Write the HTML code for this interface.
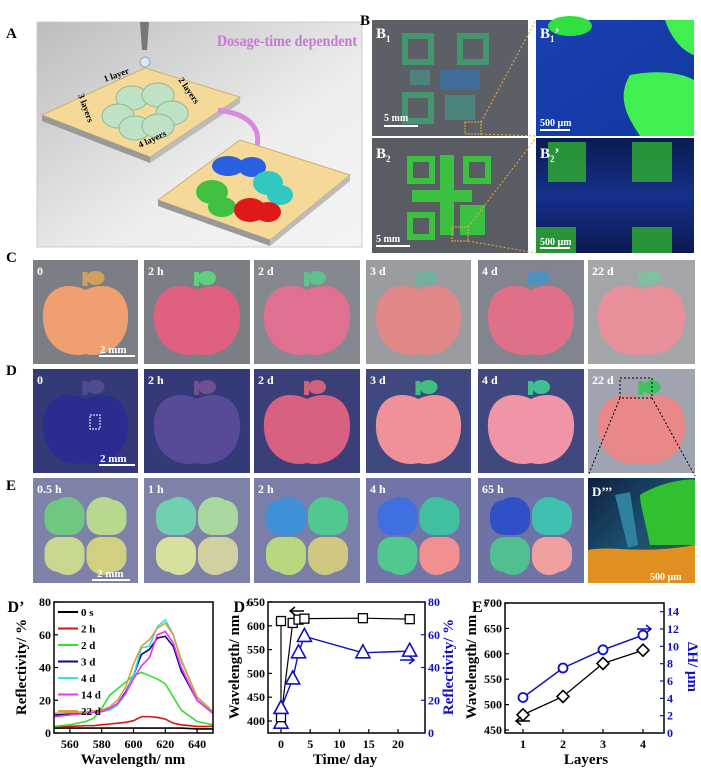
<!DOCTYPE html>
<html><head><meta charset="utf-8">
<style>
html,body{margin:0;padding:0;background:#fff;}
body{width:701px;height:780px;overflow:hidden;font-family:"Liberation Serif",serif;}
svg{display:block}
text{font-family:"Liberation Serif",serif;font-weight:bold;}
</style></head>
<body>
<svg id="fig" width="701" height="780" viewBox="0 0 701 780" xmlns="http://www.w3.org/2000/svg">
<defs>
<linearGradient id="gA" x1="0" y1="0" x2="1" y2="1"><stop offset="0" stop-color="#bdbdbd"/><stop offset="0.6" stop-color="#ededed"/><stop offset="1" stop-color="#f4f4f4"/></linearGradient>
<linearGradient id="gB1p" x1="0" y1="0" x2="1" y2="1"><stop offset="0" stop-color="#1a40b0"/><stop offset="1" stop-color="#1038a0"/></linearGradient>
<linearGradient id="gB2p" x1="0" y1="0" x2="0" y2="1"><stop offset="0" stop-color="#0a1a50"/><stop offset="0.5" stop-color="#15308a"/><stop offset="1" stop-color="#0a1a50"/></linearGradient>
<linearGradient id="gDd" x1="0" y1="0" x2="1" y2="1"><stop offset="0" stop-color="#102040"/><stop offset="0.5" stop-color="#1a5070"/><stop offset="1" stop-color="#306030"/></linearGradient>
</defs>

<!-- Panel A -->
<text x="6" y="38" font-size="15">A</text>
<g>
<rect x="37" y="22" width="325" height="225" fill="url(#gA)" stroke="#ccc"/>
<polygon points="140,22 149,22 147,50 142,50" fill="#777"/>
<circle cx="145" cy="62" r="5" fill="#d8e8f0" stroke="#9ab"/>
<polygon points="42,115 145,68 240,97 150,157" fill="#f4d998" stroke="#cfb070"/>
<polygon points="42,115 150,157 150,163 42,121" fill="#999"/>
<polygon points="150,157 240,97 240,103 150,163" fill="#bbb"/>
<g fill="#bfe2c4" stroke="#8fb89a">
<ellipse cx="132" cy="98" rx="16" ry="12"/><ellipse cx="158" cy="95" rx="16" ry="12"/>
<ellipse cx="118" cy="116" rx="16" ry="12"/><ellipse cx="172" cy="113" rx="16" ry="12"/>
<ellipse cx="135" cy="128" rx="16" ry="12"/><ellipse cx="158" cy="126" rx="16" ry="12"/>
</g>
<text x="217" y="46" font-size="16" textLength="140" lengthAdjust="spacingAndGlyphs" fill="#c67ad4">Dosage-time dependent</text>
<text x="105" y="82" font-size="9" transform="rotate(-20 105 82)">1 layer</text>
<text x="178" y="80" font-size="9" transform="rotate(55 178 80)">2 layers</text>
<text x="78" y="95" font-size="9" transform="rotate(70 78 95)">3 layers</text>
<text x="140" y="148" font-size="9" transform="rotate(-25 140 148)">4 layers</text>
<path d="M218,110 C260,115 265,140 250,160" fill="none" stroke="#d88ae0" stroke-width="5"/>
<polygon points="241,156 258,158 248,170" fill="#c060d0"/>
<polygon points="158,200 240,140 350,175 270,240" fill="#f4d998" stroke="#cfb070"/>
<polygon points="158,200 270,240 270,246 158,206" fill="#999"/>
<polygon points="270,240 350,175 350,181 270,246" fill="#bbb"/>
<g>
<ellipse cx="228" cy="166" rx="16" ry="10" fill="#2a60e0"/><ellipse cx="252" cy="167" rx="14" ry="10" fill="#2a60e0"/>
<ellipse cx="268" cy="183" rx="15" ry="12" fill="#30c8c0"/><ellipse cx="280" cy="195" rx="13" ry="10" fill="#30c8c0"/>
<ellipse cx="212" cy="192" rx="16" ry="12" fill="#40c040"/><ellipse cx="222" cy="207" rx="14" ry="10" fill="#40c040"/>
<ellipse cx="250" cy="210" rx="16" ry="12" fill="#e01818"/><ellipse cx="268" cy="212" rx="13" ry="10" fill="#e01818"/>
</g>
</g>

<!-- Panel B -->
<text x="360" y="25" font-size="15">B</text>
<g>
<rect x="372" y="20" width="156" height="116" fill="#5d5f66"/>
<g fill="#3a9a70" opacity="0.85">
<rect x="405" y="36" width="26" height="26" fill="none" stroke="#40a070" stroke-width="6"/>
<rect x="460" y="36" width="26" height="26" fill="none" stroke="#40a070" stroke-width="6"/>
<rect x="405" y="95" width="26" height="26" fill="none" stroke="#40a070" stroke-width="6"/>
<rect x="440" y="70" width="40" height="20" fill="#3a70a0"/>
<rect x="410" y="70" width="20" height="15" fill="#4a8a80"/>
<rect x="445" y="95" width="30" height="25" fill="#4a8a80"/>
</g>
<line x1="384" y1="126" x2="418" y2="126" stroke="#fff" stroke-width="2"/>
<text x="384" y="121" font-size="10" fill="#fff">5 mm</text>
<text x="376" y="38" font-size="15" fill="#fff">B<tspan font-size="9" dy="4">1</tspan></text>
<rect x="465" y="122" width="16" height="12" fill="none" stroke="#e8b030" stroke-dasharray="2,1"/>
</g>
<g>
<rect x="536" y="20" width="158" height="116" fill="url(#gB1p)"/>
<ellipse cx="570" cy="26" rx="22" ry="10" fill="#30e040"/>
<path d="M630,75 C655,70 680,72 694,80 L694,136 L640,136 C630,120 615,100 630,75 Z" fill="#40f050"/>
<path d="M665,20 L694,20 L694,55 C680,50 670,35 665,20 Z" fill="#40f050"/>
<line x1="540" y1="130" x2="570" y2="130" stroke="#fff" stroke-width="2"/>
<text x="540" y="126" font-size="10" fill="#fff">500 µm</text>
<text x="540" y="38" font-size="15" fill="#fff">B<tspan font-size="9" dy="4">1</tspan><tspan dy="-4">’</tspan></text>
</g>
<g>
<rect x="372" y="138" width="156" height="115" fill="#5a5c63"/>
<g fill="none" stroke="#3cc040" stroke-width="6">
<rect x="410" y="159" width="22" height="22"/><rect x="466" y="159" width="22" height="22"/><rect x="410" y="215" width="22" height="22"/>
</g>
<g fill="#3cc040">
<rect x="440" y="155" width="14" height="80"/><rect x="412" y="190" width="60" height="12"/><rect x="460" y="205" width="25" height="30"/>
</g>
<line x1="376" y1="246" x2="410" y2="246" stroke="#fff" stroke-width="2"/>
<text x="376" y="242" font-size="10" fill="#fff">5 mm</text>
<text x="376" y="158" font-size="15" fill="#fff">B<tspan font-size="9" dy="4">2</tspan></text>
<rect x="452" y="227" width="16" height="14" fill="none" stroke="#e8b030" stroke-dasharray="2,1"/>
</g>
<g>
<rect x="536" y="138" width="158" height="115" fill="url(#gB2p)"/>
<g fill="#30b030" opacity="0.8">
<rect x="548" y="142" width="38" height="40"/><rect x="632" y="142" width="40" height="40"/>
<rect x="536" y="227" width="40" height="26"/><rect x="632" y="227" width="40" height="26"/>
</g>
<line x1="540" y1="248" x2="570" y2="248" stroke="#fff" stroke-width="2"/>
<text x="540" y="245" font-size="10" fill="#fff">500 µm</text>
<text x="540" y="158" font-size="15" fill="#fff">B<tspan font-size="9" dy="4">2</tspan><tspan dy="-4">’</tspan></text>
</g>
<g stroke="#e8b030" stroke-dasharray="2,2" stroke-width="1">
<line x1="481" y1="122" x2="536" y2="20"/><line x1="481" y1="134" x2="536" y2="136"/>
<line x1="468" y1="227" x2="536" y2="138"/><line x1="468" y1="241" x2="536" y2="253"/>
</g>

<!-- Rows C, D, E -->
<text x="6" y="262" font-size="15">C</text>
<text x="6" y="375" font-size="15">D</text>
<text x="6" y="490" font-size="15">E</text>
<g id="photos"></g>

<!-- Charts -->
<g id="chart1"></g><g id="chart2"></g><g id="chart3"></g>
</svg>

<script>
// ---------- Chart D' data ----------
const wl = [550,560,570,575,580,585,590,595,600,605,610,615,620,625,630,640,650];
const seriesNames = ["0 s","2 h","2 d","3 d","4 d","14 d","22 d"];
const r0s  = [3,3,3,3,3,3,3,3,3,3,3,3,3,3,3,2.5,2.5];
const r2h  = [4,4,4.5,4.5,5,5.5,6,6.5,7.5,10,10,9.5,8.5,6,5,4,4];
const r2d  = [4,5,7,9,15,23,27,31,35,37,35,33,30,22,14,7,5];
const r3d  = [11,11.5,12,13,14,15,18,25,35,48,51,58,59,53,38,20,12];
const r4d  = [10,11,12,12.5,13,14,17,24,35,52,53,65,69,60,45,22,13];
const r14d = [10,11,12,12.5,13,15,18,24,33,41,46,60,62,55,40,20,12];
const r22d = [12,12.5,13,13.5,14,16,20,28,42,53,57,64,67,60,44,22,13];
const dTicksX = [560,580,600,620,640];
const dTicksY = [0,20,40,60,80];
// ---------- Chart D'' data ----------
const days = [0,0,2,3,4,14,22];
const wavelengthPeak = [610,408,606,613,615,616,614];
const reflectPeak = [6,15,33,49,59,49,50];
const d2TicksX = [0,5,10,15,20];
const d2TicksYL = [400,450,500,550,600,650];
const d2TicksYR = [0,20,40,60,80];
// ---------- Chart E' data ----------
const layers = [1,2,3,4];
const layerWavelength = [480,516,581,607];
const layerThickness = [4.1,7.5,9.6,11.3];
const eTicksX = [1,2,3,4];
const eTicksYL = [450,500,550,600,650,700];
const eTicksYR = [0,2,4,6,8,10,12,14];

const NS="http://www.w3.org/2000/svg";
function mk(parent,tag,attrs){const e=document.createElementNS(NS,tag);for(const k in attrs)e.setAttribute(k,attrs[k]);parent.appendChild(e);return e;}
function lin(d0,d1,r0,r1){return v=>r0+(v-d0)*(r1-r0)/(d1-d0);}

// ---------- photos ----------
const photos=document.getElementById('photos');
const cols=[[33,138],[144,250],[254,360],[366,471],[478,584],[588,695]];
const rowC={y:260,h:104,bg:["#7c7e86","#7c7e86","#868890","#9a9ca0","#828490","#a4a6aa"],
  fg:["#f0a070","#e06080","#e07090","#e08888","#e07088","#e8909a"],top:["#d0a060","#60d080","#60c090","#70b0a0","#5090c0","#80c0a0"],lab:["0","2 h","2 d","3 d","4 d","22 d"]};
const rowD={y:369,h:104,bg:["#343a78","#343a78","#3a3f78","#404880","#404880","#a0a4b0"],
  fg:["#2c2c90","#584a98","#d86080","#f09098","#f094a8","#e88888"],top:["#504a90","#705090","#d06080","#40c080","#40c090","#40c060"],lab:["0","2 h","2 d","3 d","4 d","22 d"]};
const rowE={y:478,h:105,bg:["#7e82a8","#7e82a8","#7a7ea8","#7074a8","#6e72a4"],
  q:[["#70c880","#b8d890","#c8d890","#d0d080"],["#70d0b0","#a8d8a0","#d8e0a0","#d0d0a0"],["#4090d8","#50c890","#b8d880","#d0c880"],["#4070e0","#40c0a0","#50c890","#f09090"],["#3050c8","#40c0b0","#50c090","#f0a0a0"]],lab:["0.5 h","1 h","2 h","4 h","65 h"]};
function apple(g,x0,w,y,h,fg,top){
  const cx=x0+w/2;
  mk(g,'ellipse',{cx:cx+10,cy:y+18,rx:9,ry:7,fill:top});
  mk(g,'rect',{x:cx-3,y:y+12,width:5,height:14,fill:top});
  mk(g,'path',{d:`M${cx},${y+30} C${cx-20},${y+20} ${x0+8},${y+28} ${x0+10},${y+60} C${x0+12},${y+90} ${cx-15},${y+h-6} ${cx},${y+h-10} C${cx+15},${y+h-6} ${x0+w-12},${y+90} ${x0+w-10},${y+60} C${x0+w-8},${y+28} ${cx+20},${y+20} ${cx},${y+30} Z`,fill:fg});
}
function rowPhotos(row,name){
  for(let i=0;i<6;i++){
    const [x0,x1]=cols[i];const w=x1-x0;
    const g=mk(photos,'g',{});
    
    
    mk(g,'rect',{x:x0,y:row.y,width:w,height:row.h,fill:row.bg[i]});
    apple(g,x0,w,row.y,row.h,row.fg[i],row.top[i]);
    const t=mk(g,'text',{x:x0+4,y:row.y+15,'font-size':12,fill:'#fff'});t.textContent=row.lab[i];
  }
}
rowPhotos(rowC,'row-c');rowPhotos(rowD,'row-d');
for(let i=0;i<5;i++){
  const [x0,x1]=cols[i];const w=x1-x0;const y=rowE.y,h=rowE.h;
  const g=mk(photos,'g',{});
  
  
  mk(g,'rect',{x:x0,y:y,width:w,height:h,fill:rowE.bg[i]});
  const cx=x0+w/2,cy=y+58;const q=rowE.q[i];
  const pos=[[-1,-1],[1,-1],[-1,1],[1,1]];
  pos.forEach((p,k)=>{
    mk(g,'rect',{x:p[0]<0?cx-41:cx+1,y:p[1]<0?cy-36:cy+1,width:40,height:35,rx:14,fill:q[k]});
    mk(g,'circle',{cx:cx+p[0]*18,cy:cy+p[1]*22,r:17,fill:q[k]});
  });
  const t=mk(g,'text',{x:x0+4,y:y+15,'font-size':12,fill:'#fff'});t.textContent=rowE.lab[i];
}
// D''' photo
{const g=mk(photos,'g',{});


mk(g,'rect',{x:588,y:478,width:107,height:105,fill:'url(#gDd)'});
mk(g,'path',{d:'M640,495 C660,482 690,478 695,480 L695,545 L650,545 C645,520 640,505 640,495 Z',fill:'#30c030'});
mk(g,'polygon',{points:'615,495 630,492 638,545 628,548',fill:'#3080a0'});
mk(g,'path',{d:'M588,550 C610,545 640,555 695,545 L695,583 L588,583 Z',fill:'#e09020'});
const t=mk(g,'text',{x:592,y:496,'font-size':13,fill:'#fff'});t.textContent="D’’’";
const t2=mk(g,'text',{x:650,y:580,'font-size':10,fill:'#fff'});t2.textContent="500 µm";}
// scale bars for C and D rows
[[rowC.y+96],[rowD.y+96]].forEach((p,i)=>{
  const g=mk(photos,'g',{});
  
  
  mk(g,'line',{x1:99,y1:p[0],x2:135,y2:p[0],stroke:'#fff','stroke-width':2});
  const t=mk(g,'text',{x:100,y:p[0]-3,'font-size':11,fill:'#fff'});t.textContent='2 mm';
});
{const g=mk(photos,'g',{});


mk(g,'line',{x1:92,y1:580,x2:130,y2:580,stroke:'#fff','stroke-width':2});
const t=mk(g,'text',{x:97,y:577,'font-size':11,fill:'#fff'});t.textContent='2 mm';}
{const g=mk(photos,'g',{fill:'none',stroke:'#000','stroke-dasharray':'2,2'});


mk(g,'rect',{x:620,y:378,width:32,height:20});
mk(g,'line',{x1:620,y1:398,x2:588,y2:476});mk(g,'line',{x1:652,y1:398,x2:695,y2:476});
mk(photos,'rect',{x:90,y:415,width:10,height:14,fill:'none',stroke:'#fff','stroke-dasharray':'2,1'});}

// ---------- common axis ----------
function frame(g,L,T,R,B){
  const f=mk(g,'rect',{x:L,y:T,width:R-L,height:B-T,fill:'none',stroke:'#000','stroke-width':1.5});
  
  
}
function xticks(g,ticks,sx,B,name){
  ticks.forEach(v=>{
    mk(g,'line',{x1:sx(v),y1:B,x2:sx(v),y2:B-4,stroke:'#000','stroke-width':1.2});
    const t=mk(g,'text',{x:sx(v),y:B+15,'font-size':12,'text-anchor':'middle'});
    
    
    t.textContent=v;
  });
}
function yticks(g,ticks,sy,X,side,color,name){
  ticks.forEach(v=>{
    mk(g,'line',{x1:X,y1:sy(v),x2:X+(side<0?4:-4),y2:sy(v),stroke:color,'stroke-width':1.2});
    const t=mk(g,'text',{x:side<0?X-3:X+3,y:sy(v)+4,'font-size':12,'text-anchor':side<0?'end':'start',fill:color});
    
    
    t.textContent=v;
  });
}
function label(g,txt,x,y,rot,color,name,size){
  const t=mk(g,'text',{x:x,y:y,'font-size':size||14,'text-anchor':'middle',fill:color||'#000'});
  if(rot)t.setAttribute('transform',`rotate(${rot} ${x} ${y})`);
  
  
  t.textContent=txt;return t;
}

// ---------- Chart D' ----------
{
const g=document.getElementById('chart1');


const L=54,R=213,T=602,B=733;
const sx=lin(550,650,L,R), sy=lin(0,80,B,T);
const colors=["#000","#e01010","#30e030","#0a0a90","#30e0e0","#f030f0","#d4a040"];
const data=[r0s,r2h,r2d,r3d,r4d,r14d,r22d];
data.forEach((s,i)=>{
  const p=mk(g,'polyline',{points:wl.map((w,k)=>sx(w)+','+sy(s[k])).join(' '),fill:'none',stroke:colors[i],'stroke-width':1.6});
  
  
});
frame(g,L,T,R,B);
xticks(g,dTicksX,sx,B,'x-axis');
yticks(g,dTicksY,sy,L,-1,'#000','y-axis');
label(g,'Wavelength/ nm',133,764,0,'#000','x-axis-title',15);
label(g,'Reflectivity/ %',26,667,-90,'#000','y-axis-title',15);
label(g,'D’',16,612,0,'#000','panel-label-d-prime',16);
seriesNames.forEach((n,i)=>{
  const y=612+i*16.5;
  const le=mk(g,'g',{});
  
  
  mk(le,'line',{x1:58,y1:y,x2:78,y2:y,stroke:colors[i],'stroke-width':2});
  const t=mk(le,'text',{x:81,y:y+4,'font-size':11});t.textContent=n;
});
}
// ---------- Chart D'' ----------
{
const g=document.getElementById('chart2');


const L=268,R=425,T=602,B=733;
const sx=lin(0,20,281,398), syL=lin(400,650,721,T), syR=lin(0,80,B,T);
const pl=mk(g,'polyline',{points:days.map((d,k)=>sx(d)+','+syL(wavelengthPeak[k])).join(' '),fill:'none',stroke:'#000','stroke-width':1.2});


const pr=mk(g,'polyline',{points:days.map((d,k)=>sx(d)+','+syR(reflectPeak[k])).join(' '),fill:'none',stroke:'#1010c0','stroke-width':1.4});


days.forEach((d,k)=>{
  const s=mk(g,'rect',{x:sx(d)-4.5,y:syL(wavelengthPeak[k])-4.5,width:9,height:9,fill:'#fff',stroke:'#000','stroke-width':1.3});
  
  
  const x=sx(d),y=syR(reflectPeak[k]);
  const tr=mk(g,'polygon',{points:`${x},${y-8} ${x-7},${y+5} ${x+7},${y+5}`,fill:'#fff',stroke:'#1010c0','stroke-width':1.6});
  
  
});
frame(g,L,T,R,B);
xticks(g,d2TicksX,sx,B,'x-axis');
yticks(g,d2TicksYL,syL,L,-1,'#000','y-left-axis');
yticks(g,d2TicksYR,syR,R,1,'#1010c0','y-right-axis');
label(g,'Time/ day',345,764,0,'#000','x-axis-title',15);
label(g,'Wavelength/ nm',239,667,-90,'#000','y-left-title',15);
label(g,'Reflectivity/ %',453,667,-90,'#1010c0','y-right-title',15);
label(g,'D’’',244,612,0,'#000','panel-label-d-double-prime',16);
mk(g,'path',{d:'M304,611 L290,611 M295,607 L290,611 L295,615',stroke:'#000',fill:'none','stroke-width':1.5});
mk(g,'path',{d:'M400,660 L414,660 M409,656 L414,660 L409,664',stroke:'#1010c0',fill:'none','stroke-width':1.5});
}
// ---------- Chart E' ----------
{
const g=document.getElementById('chart3');


const L=505,R=664,T=603,B=733;
const sx=lin(1,4,523,643), syL=lin(450,700,B-3,T), syR=lin(0,15,B,T);
const pl=mk(g,'polyline',{points:layers.map((d,k)=>sx(d)+','+syL(layerWavelength[k])).join(' '),fill:'none',stroke:'#000','stroke-width':1.3});


const pr=mk(g,'polyline',{points:layers.map((d,k)=>sx(d)+','+syR(layerThickness[k])).join(' '),fill:'none',stroke:'#1010c0','stroke-width':1.5});


layers.forEach((d,k)=>{
  const x=sx(d),y=syL(layerWavelength[k]);
  const dm=mk(g,'polygon',{points:`${x},${y-6} ${x+6},${y} ${x},${y+6} ${x-6},${y}`,fill:'#fff',stroke:'#000','stroke-width':1.6});
  
  
  const c=mk(g,'circle',{cx:x,cy:syR(layerThickness[k]),r:4.5,fill:'#fff',stroke:'#1010c0','stroke-width':1.8});
  
  
});
frame(g,L,T,R,B);
xticks(g,eTicksX,sx,B,'x-axis');
yticks(g,eTicksYL,syL,L,-1,'#000','y-left-axis');
yticks(g,eTicksYR,syR,R,1,'#1010c0','y-right-axis');
label(g,'Layers',586,764,0,'#000','x-axis-title',15);
label(g,'Wavelength/ nm',476,667,-90,'#000','y-left-title',15);
label(g,'ΔH/ µm',688,667,90,'#1010c0','y-right-title',15);
label(g,'E’',480,612,0,'#000','panel-label-e-prime',16);
mk(g,'path',{d:'M530,721 L516,721 M521,717 L516,721 L521,725',stroke:'#000',fill:'none','stroke-width':1.5});
mk(g,'path',{d:'M637,629 L651,629 M646,625 L651,629 L646,633',stroke:'#1010c0',fill:'none','stroke-width':1.5});
}
</script>
</body></html>
